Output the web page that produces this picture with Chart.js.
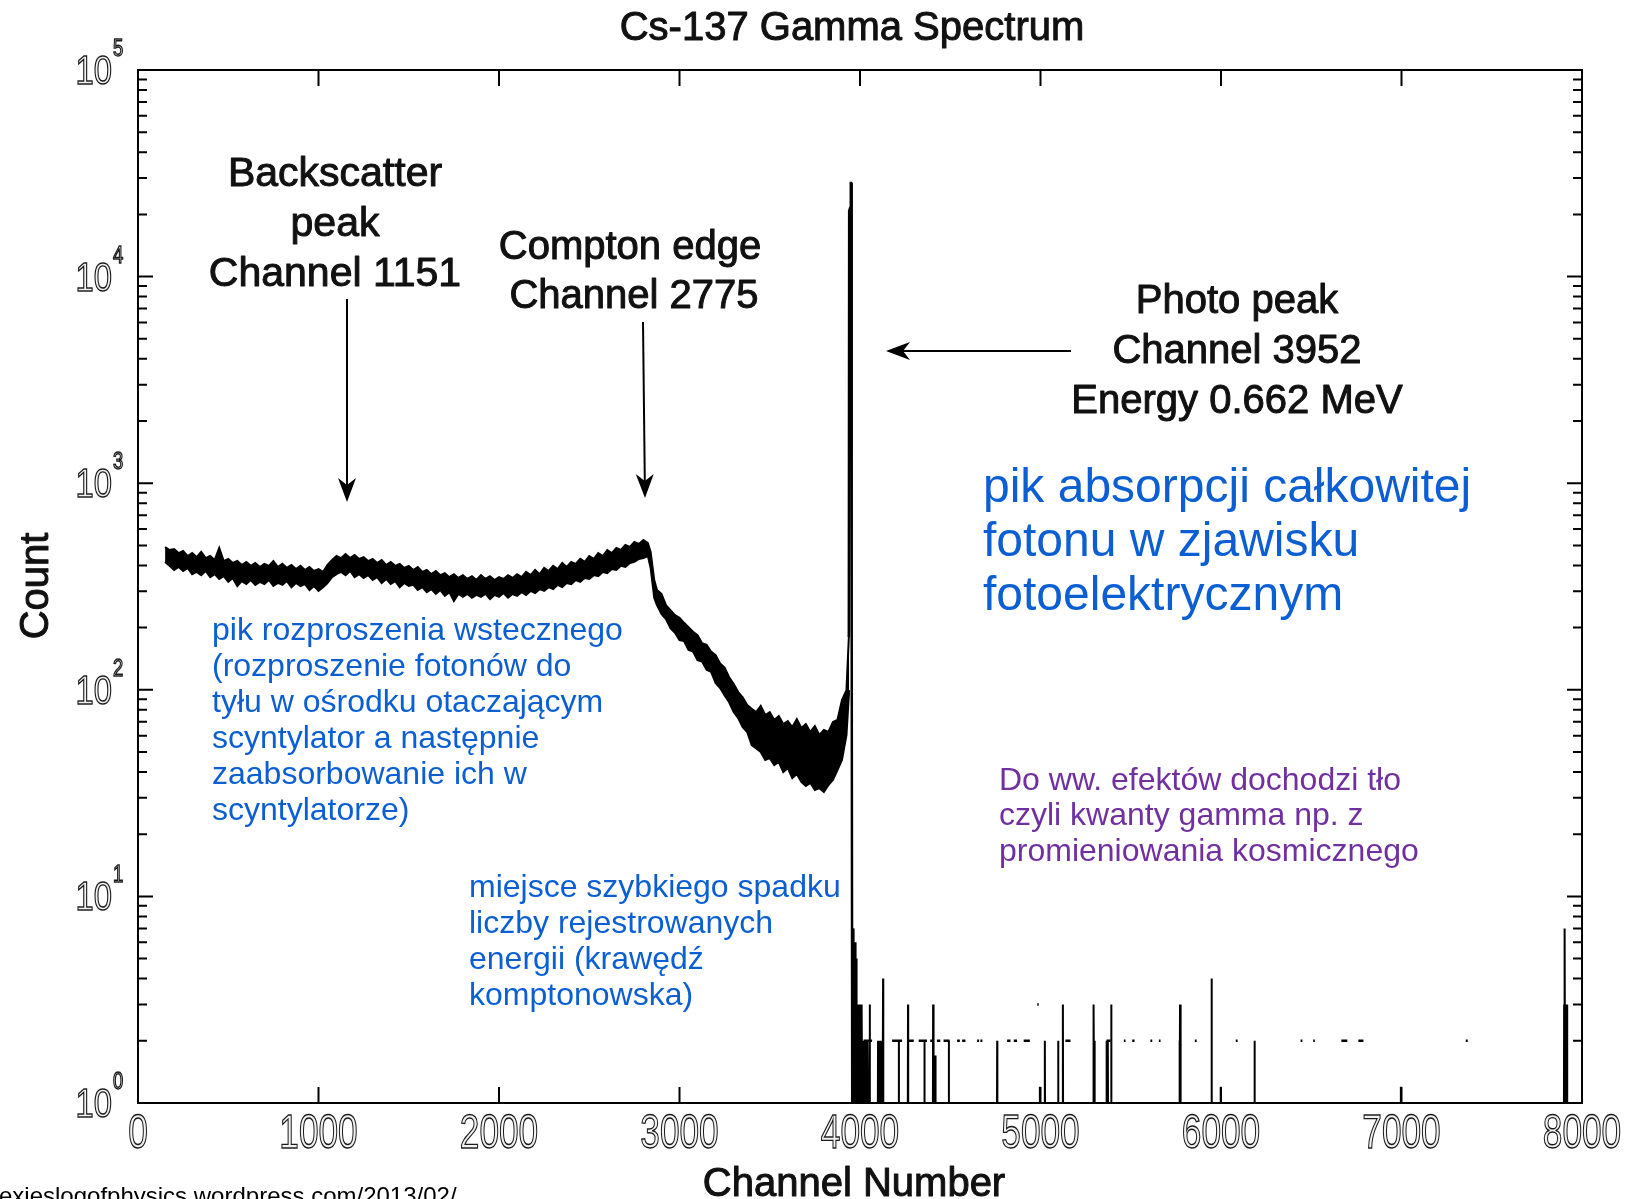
<!DOCTYPE html>
<html>
<head>
<meta charset="utf-8">
<script src="https://cdn.jsdelivr.net/npm/chart.js@4.4.0/dist/chart.umd.min.js"></script>
<style>
  html, body { margin: 0; padding: 0; background: #fff; }
  #wrap { width: 1630px; height: 1199px; position: relative; }
</style>
</head>
<body>
<div id="wrap"><canvas id="spectrum" width="1630" height="1199"></canvas></div>
<script>
// kanały i obwiednia pasma szumu (górna / dolna)
const bandChannels = [
  150, 175, 200, 225, 250, 275, 300, 325, 350, 375,
  400, 425, 450, 475, 500, 525, 550, 575, 600, 625,
  650, 675, 700, 725, 750, 775, 800, 825, 850, 875,
  900, 925, 950, 975, 1000, 1025, 1050, 1075, 1100, 1125,
  1150, 1175, 1200, 1225, 1250, 1275, 1300, 1325, 1350, 1375,
  1400, 1425, 1450, 1475, 1500, 1525, 1550, 1575, 1600, 1625,
  1650, 1675, 1700, 1725, 1750, 1775, 1800, 1825, 1850, 1875,
  1900, 1925, 1950, 1975, 2000, 2025, 2050, 2075, 2100, 2125,
  2150, 2175, 2200, 2225, 2250, 2275, 2300, 2325, 2350, 2375,
  2400, 2425, 2450, 2475, 2500, 2525, 2550, 2575, 2600, 2625,
  2650, 2675, 2700, 2725, 2750, 2775, 2800, 2825,
  2840, 2860,
  2875, 2900, 2925, 2950, 2975, 3000, 3025, 3050, 3075, 3100,
  3125, 3150, 3175, 3200, 3225, 3250, 3275, 3300, 3325, 3350,
  3375, 3400, 3425, 3450, 3475, 3500, 3525, 3550, 3575, 3600,
  3625, 3650, 3675, 3700, 3725, 3750, 3775, 3800, 3825, 3850,
  3875, 3900, 3925,
  3940];
const bandHigh = [
  491, 475, 480, 459, 470, 444, 459, 439, 465, 434,
  444, 425, 486, 420, 430, 411, 420, 402, 416, 398,
  411, 393, 407, 398, 420, 393, 407, 389, 402, 384,
  398, 380, 393, 376, 384, 372, 402, 425, 444, 434,
  454, 434, 449, 430, 439, 420, 430, 411, 425, 402,
  416, 398, 407, 389, 398, 380, 393, 372, 380, 363,
  376, 359, 367, 351, 363, 348, 359, 344, 355, 340,
  359, 344, 355, 340, 351, 344, 359, 348, 363, 351,
  372, 359, 380, 363, 389, 376, 398, 384, 411, 393,
  416, 407, 430, 416, 444, 430, 459, 444, 475, 459,
  486, 475, 502, 491, 519, 508, 531, 513,
  465, 340,
  304, 291, 257, 243, 230, 223, 211, 201, 191, 184,
  168, 165, 153, 147, 134, 128, 115, 107, 97.5, 92,
  84.4, 81, 78, 83.5, 75.5, 78, 71.4, 74.7, 68.3, 70.6,
  66, 72.2, 65.3, 68.3, 62.5, 66.7, 60.4, 63.9, 62.5, 69.8,
  71.4, 89.2, 99.7,
  195];
const bandLow = [
  416, 398, 380, 393, 376, 389, 363, 372, 359, 376,
  351, 363, 344, 355, 333, 348, 318, 336, 325, 340,
  322, 333, 325, 340, 318, 329, 322, 336, 314, 329,
  318, 325, 304, 318, 301, 314, 329, 351, 363, 372,
  359, 376, 351, 363, 348, 359, 340, 351, 329, 344,
  325, 336, 314, 329, 318, 322, 304, 314, 297, 307,
  291, 304, 285, 297, 269, 291, 282, 291, 279, 288,
  282, 291, 275, 288, 282, 294, 279, 291, 285, 297,
  288, 301, 294, 307, 301, 314, 307, 322, 314, 329,
  325, 340, 333, 348, 344, 359, 355, 372, 367, 384,
  380, 398, 393, 411, 416, 430, 434, 444,
  389, 279,
  257, 233, 220, 199, 189, 174, 172, 156, 153, 139,
  137, 125, 122, 108, 102, 94, 87, 78, 73, 66,
  62.5, 54, 52, 50, 45.7, 46.7, 43.2, 44.7, 40, 41.8,
  37.4, 39.1, 35.8, 34.2, 35.4, 32.7, 33.4, 32, 34.6, 36.6,
  40.9, 45.7, 60.4,
  99.7];

// pik fotoelektryczny
const peakChannels = [3938, 3940, 3945, 3949, 3951, 3954, 3957, 3960];
const peakCounts = [180, 20800, 21500, 28400, 28400, 195, 1, 7];

// pojedyncze zliczenia powyżej piku (kanał, liczba zliczeń)
const tailChannels = [3963, 3966, 3969, 3972, 3975, 3978, 3981, 3984, 3987, 3990, 3993, 3996, 3999, 4002, 4005,
  4008, 4011, 4014, 4017, 4020, 4024, 4028, 4032, 4036, 4040, 4044, 4054,
  4100, 4104, 4108, 4112, 4116, 4120, 4124, 4128,
  4215, 4266, 4357, 4405, 4410, 4414, 4418, 4492, 4760, 4996, 5024, 5098, 5124, 5292, 5296, 5300,
  5366, 5373, 5392, 5770, 5773, 5777, 5948, 5998, 6186, 6996, 7901, 7905, 7909, 7913, 7917];
const tailCounts = [7, 7, 6, 6, 6, 4, 5, 3, 3, 3, 3, 3, 2, 3, 3,
  2, 3, 2, 2, 2, 2, 2, 1.7, 2, 1.7, 2, 3,
  2, 2, 2, 2, 2, 2, 2, 4,
  2, 3, 2, 3, 1.7, 1.7, 1.7, 2, 2, 1.2, 2, 2, 3, 2, 3, 2,
  2, 2, 3, 2, 3, 2, 4, 1.2, 2, 1.2, 3, 7, 3, 3, 3];

// krótkie poziome odcinki (kanał od, kanał do, poziom)
const dashFrom = [4020, 4178, 4261, 4325, 4389, 4426, 4463, 4538, 4566, 4649, 4667, 4815, 4852, 4907, 4982,
  5138, 5366, 5462, 5508, 5609, 5656, 5855, 6082, 6441, 6511, 6667, 6761, 7356];
const dashTo = [4067, 4233, 4298, 4371, 4400, 4445, 4496, 4553, 4584, 4660, 4678, 4834, 4870, 4941, 4990,
  5166, 5388, 5471, 5521, 5619, 5665, 5865, 6092, 6451, 6520, 6700, 6789, 7367];
const dashLevel = [2, 2, 2, 2, 2, 2, 2, 2, 2, 2, 2, 2, 2, 2, 3,
  2, 2, 2, 2, 2, 2, 2, 2, 2, 2, 2, 2, 2];

const FLOOR = 1; // zero zliczeń rysowane na dolnej krawędzi osi log

const xTickValues = [0, 1000, 2000, 3000, 4000, 5000, 6000, 7000, 8000];
const xTickLabels = ['0', '1000', '2000', '3000', '4000', '5000', '6000', '7000', '8000'];
const yTickValues = [1, 10, 100, 1000, 10000, 100000];
const yTickExps = ['0', '1', '2', '3', '4', '5'];
const yMinorSteps = [2, 3, 4, 5, 6, 7, 8, 9];

// budowa punktów
const highPts = bandChannels.map((c, i) => ({ x: c, y: bandHigh[i] }));
const lowPts = bandChannels.map((c, i) => ({ x: c, y: bandLow[i] }));
const peakPts = peakChannels.map((c, i) => ({ x: c, y: peakCounts[i] }));
const tailPts = [];
tailChannels.forEach((c, i) => {
  tailPts.push({ x: c - 1, y: FLOOR }, { x: c, y: tailCounts[i] }, { x: c + 1, y: FLOOR });
});
const dashPts = [];
dashFrom.forEach((c, i) => {
  dashPts.push({ x: c, y: dashLevel[i] }, { x: dashTo[i], y: dashLevel[i] }, { x: dashTo[i] + 1, y: null });
});

const FONT = '"Liberation Sans", Arial, sans-serif';

function squeezed(ctx, text, px, py, size, sx, align) {
  ctx.save();
  ctx.translate(px, py);
  ctx.scale(sx, 1);
  ctx.font = size + 'px ' + FONT;
  ctx.textAlign = align;
  ctx.textBaseline = 'alphabetic';
  ctx.fillStyle = '#f2f2f2';
  ctx.strokeStyle = '#1a1a1a';
  ctx.lineWidth = 1.4;
  ctx.fillText(text, 0, 0);
  ctx.strokeText(text, 0, 0);
  ctx.restore();
}

function label(ctx, lines, px, py0, step, size, color, align, weight) {
  ctx.save();
  ctx.font = size + 'px ' + FONT;
  ctx.textAlign = align;
  ctx.textBaseline = 'alphabetic';
  ctx.fillStyle = color;
  ctx.strokeStyle = color;
  ctx.lineWidth = weight || 0;
  ctx.lineJoin = 'round';
  lines.forEach((t, i) => {
    ctx.fillText(t, px, py0 + i * step);
    if (weight) ctx.strokeText(t, px, py0 + i * step);
  });
  ctx.restore();
}

function arrow(ctx, x1, y1, x2, y2) {
  const ang = Math.atan2(y2 - y1, x2 - x1);
  ctx.save();
  ctx.strokeStyle = '#000';
  ctx.fillStyle = '#000';
  ctx.lineWidth = 2;
  ctx.beginPath();
  ctx.moveTo(x1, y1);
  ctx.lineTo(x2 - 10 * Math.cos(ang), y2 - 10 * Math.sin(ang));
  ctx.stroke();
  ctx.translate(x2, y2);
  ctx.rotate(ang);
  ctx.beginPath();
  ctx.moveTo(0, 0);
  ctx.lineTo(-24, -9);
  ctx.lineTo(-17, 0);
  ctx.lineTo(-24, 9);
  ctx.closePath();
  ctx.fill();
  ctx.restore();
}

const frame = {
  id: 'frame',
  afterDatasetsDraw(chart) {
    const { ctx, chartArea: a, scales: { x, y } } = chart;
    ctx.save();
    ctx.strokeStyle = '#000';
    ctx.lineWidth = 2;
    ctx.strokeRect(a.left, a.top, a.right - a.left, a.bottom - a.top);
    ctx.beginPath();
    xTickValues.forEach(v => {
      const px = x.getPixelForValue(v);
      ctx.moveTo(px, a.bottom); ctx.lineTo(px, a.bottom - 16);
      ctx.moveTo(px, a.top); ctx.lineTo(px, a.top + 16);
    });
    yTickValues.forEach((v, i) => {
      const py = y.getPixelForValue(v);
      ctx.moveTo(a.left, py); ctx.lineTo(a.left + 15, py);
      ctx.moveTo(a.right, py); ctx.lineTo(a.right - 15, py);
      if (i < yTickValues.length - 1) {
        yMinorSteps.forEach(m => {
          const pm = y.getPixelForValue(v * m);
          ctx.moveTo(a.left, pm); ctx.lineTo(a.left + 9, pm);
          ctx.moveTo(a.right, pm); ctx.lineTo(a.right - 9, pm);
        });
      }
    });
    ctx.stroke();
    ctx.restore();

    xTickValues.forEach((v, i) => squeezed(ctx, xTickLabels[i], x.getPixelForValue(v), 1148, 49, 0.72, 'center'));
    yTickValues.forEach((v, i) => {
      const py = y.getPixelForValue(v);
      squeezed(ctx, '10', 112, py + 14, 41, 0.8, 'right');
      squeezed(ctx, yTickExps[i], 113, py - 14, 23, 0.8, 'left');
    });
  },
  afterDraw(chart) {
    const ctx = chart.ctx;
    // tytuł i opisy osi
    label(ctx, ['Cs-137 Gamma Spectrum'], 852, 40, 0, 40, '#111', 'center', 1);
    label(ctx, ['Channel Number'], 854, 1196, 0, 40, '#111', 'center', 1);
    ctx.save();
    ctx.translate(48, 586);
    ctx.rotate(-Math.PI / 2);
    label(ctx, ['Count'], 0, 0, 0, 40, '#111', 'center', 1);
    ctx.restore();

    // opisy angielskie ze strzałkami
    label(ctx, ['Backscatter', 'peak', 'Channel 1151'], 335, 186, 50, 41, '#111', 'center', 1);
    label(ctx, ['Compton edge'], 630, 259, 0, 40, '#111', 'center', 1);
    label(ctx, ['Channel 2775'], 634, 308, 0, 40, '#111', 'center', 1);
    label(ctx, ['Photo peak', 'Channel 3952', 'Energy 0.662 MeV'], 1237, 313, 50, 40, '#111', 'center', 1);
    arrow(ctx, 347, 299, 347, 502);
    arrow(ctx, 643, 322, 645, 498);
    arrow(ctx, 1071, 351, 886, 351);

    // polskie komentarze
    label(ctx, ['pik absorpcji całkowitej', 'fotonu w zjawisku', 'fotoelektrycznym'], 983, 502, 54, 48, '#0b5fd3', 'left');
    label(ctx, ['pik rozproszenia wstecznego', '(rozproszenie fotonów do', 'tyłu w ośrodku otaczającym',
      'scyntylator a następnie', 'zaabsorbowanie ich w', 'scyntylatorze)'], 212, 640, 36, 32, '#0b5fd3', 'left');
    label(ctx, ['miejsce szybkiego spadku', 'liczby rejestrowanych', 'energii (krawędź', 'komptonowska)'],
      469, 897, 36, 32, '#0b5fd3', 'left');
    label(ctx, ['Do ww. efektów dochodzi tło', 'czyli kwanty gamma np. z', 'promieniowania kosmicznego'],
      999, 790, 35.3, 32, '#7030a0', 'left');
    label(ctx, ['exieslogofphysics.wordpress.com/2013/02/'], -1, 1204, 0, 24, '#000', 'left');
  }
};

new Chart(document.getElementById('spectrum'), {
  type: 'line',
  data: {
    datasets: [
      { label: 'band high', data: highPts, borderColor: '#000', borderWidth: 2, fill: false },
      { label: 'band low', data: lowPts, borderColor: '#000', borderWidth: 2, fill: '-1', backgroundColor: '#000' },
      { label: 'peak', data: peakPts, borderColor: '#000', borderWidth: 2.5, fill: false },
      { label: 'tail', data: tailPts, borderColor: '#000', borderWidth: 2, fill: false },
      { label: 'dashes', data: dashPts, borderColor: '#000', borderWidth: 2.5, fill: false, spanGaps: false }
    ]
  },
  options: {
    responsive: false,
    animation: false,
    devicePixelRatio: 1,
    layout: { padding: { left: 138, top: 70, right: 48, bottom: 96 } },
    elements: { point: { radius: 0 }, line: { tension: 0 } },
    plugins: { legend: { display: false }, tooltip: { enabled: false }, title: { display: false } },
    scales: {
      x: { type: 'linear', min: 0, max: 8000, display: false },
      y: { type: 'logarithmic', min: 1, max: 100000, display: false }
    }
  },
  plugins: [frame]
});
</script>
</body>
</html>
